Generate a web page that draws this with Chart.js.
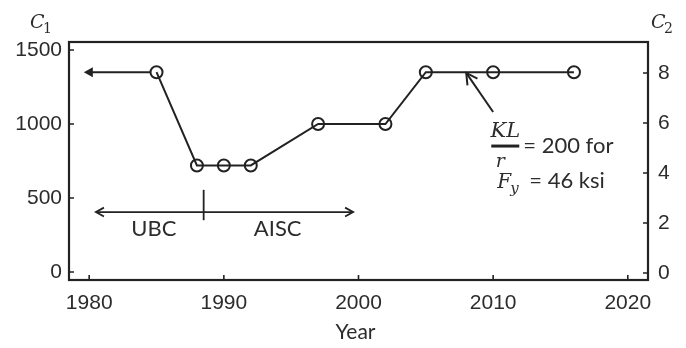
<!DOCTYPE html>
<html>
<head>
<meta charset="utf-8">
<script src="https://cdn.jsdelivr.net/npm/chart.js@4"></script>
<style>
  html, body { margin: 0; padding: 0; background: #fff; }
</style>
</head>
<body>
<canvas id="c1plot" width="686" height="348"></canvas>
<script>

// data
const years = [1985, 1988, 1990, 1992, 1997, 2002, 2005, 2010, 2016]
const c1Values = [1350, 720, 720, 720, 1000, 1000, 1350, 1350, 1350]

const yearTicks = [1980, 1990, 2000, 2010, 2020]
const c1Ticks = [0, 500, 1000, 1500]
const c2Ticks = [0, 2, 4, 6, 8]

// annotations (in data units)
const backArrowYears = [1985, 1979.6]      // arrow going left from first point
const codeSpanYears = [1980.5, 1999.6]     // UBC <-> AISC arrow
const codeSplitYear = 1988.5
const codeArrowC1 = 405
const codeSplitC1 = [350, 555]
const codeLabels = ['UBC', 'AISC']
const codeLabelYears = [1984.8, 1994.0]
const codeLabelC1 = 300
const noteArrowFrom = [2010.0, 1081]
const noteArrowTo = [2008.0, 1345]
const noteAnchor = [2010.9, 851]

const ink = '#222'
const textInk = '#2c2c2c'

function arrowHead(ctx, x, y, angle, len, filled) {
  ctx.save()
  ctx.translate(x, y)
  ctx.rotate(angle)
  ctx.beginPath()
  ctx.moveTo(-len, -len * 0.55)
  ctx.lineTo(0, 0)
  ctx.lineTo(-len, len * 0.55)
  if (filled) { ctx.closePath(); ctx.fill() } else { ctx.stroke() }
  ctx.restore()
}

const decorations = {
  id: 'decorations',
  afterDatasetsDraw(chart) {
    const ctx = chart.ctx
    const a = chart.chartArea
    const xs = chart.scales.x
    const ys = chart.scales.y
    const y2 = chart.scales.y2
    ctx.save()
    ctx.strokeStyle = ink
    ctx.fillStyle = ink
    ctx.lineCap = 'butt'

    // box
    ctx.lineWidth = 2.2
    ctx.strokeRect(a.left, a.top, a.right - a.left, a.bottom - a.top)

    // inward tick marks
    ctx.lineWidth = 1.6
    ctx.beginPath()
    yearTicks.forEach(v => {
      const px = xs.getPixelForValue(v)
      ctx.moveTo(px, a.bottom); ctx.lineTo(px, a.bottom - 5)
    })
    c1Ticks.forEach(v => {
      const py = ys.getPixelForValue(v)
      ctx.moveTo(a.left, py); ctx.lineTo(a.left + 5, py)
    })
    c2Ticks.forEach(v => {
      const py = y2.getPixelForValue(v)
      ctx.moveTo(a.right, py); ctx.lineTo(a.right - 5, py)
    })
    ctx.stroke()

    // arrow back to 1980
    ctx.lineWidth = 2
    const by = ys.getPixelForValue(c1Values[0])
    const bx0 = xs.getPixelForValue(backArrowYears[0]) - 6
    const bx1 = xs.getPixelForValue(backArrowYears[1])
    ctx.beginPath(); ctx.moveTo(bx0, by); ctx.lineTo(bx1 + 4, by); ctx.stroke()
    arrowHead(ctx, bx1, by, Math.PI, 9, true)

    // UBC / AISC arrow
    ctx.lineWidth = 1.8
    const cy = ys.getPixelForValue(codeArrowC1)
    const cl = xs.getPixelForValue(codeSpanYears[0])
    const cr = xs.getPixelForValue(codeSpanYears[1])
    ctx.beginPath(); ctx.moveTo(cl, cy); ctx.lineTo(cr, cy); ctx.stroke()
    arrowHead(ctx, cl, cy, Math.PI, 8, false)
    arrowHead(ctx, cr, cy, 0, 8, false)
    const sx = xs.getPixelForValue(codeSplitYear)
    ctx.beginPath()
    ctx.moveTo(sx, ys.getPixelForValue(codeSplitC1[0]))
    ctx.lineTo(sx, ys.getPixelForValue(codeSplitC1[1]))
    ctx.stroke()

    // note arrow
    ctx.lineWidth = 2
    const nx0 = xs.getPixelForValue(noteArrowFrom[0]), ny0 = ys.getPixelForValue(noteArrowFrom[1])
    const nx1 = xs.getPixelForValue(noteArrowTo[0]), ny1 = ys.getPixelForValue(noteArrowTo[1])
    ctx.beginPath(); ctx.moveTo(nx0, ny0); ctx.lineTo(nx1, ny1); ctx.stroke()
    arrowHead(ctx, nx1, ny1, Math.atan2(ny1 - ny0, nx1 - nx0), 11, false)

    // texts
    ctx.fillStyle = textInk
    ctx.textBaseline = 'alphabetic'
    ctx.textAlign = 'center'
    ctx.font = '22px Lato'
    codeLabels.forEach((t, i) => {
      ctx.fillText(t, xs.getPixelForValue(codeLabelYears[i]), ys.getPixelForValue(codeLabelC1) + 8)
    })

    // KL / r = 200 for, Fy = 46 ksi
    const ax = xs.getPixelForValue(noteAnchor[0])
    const ay = ys.getPixelForValue(noteAnchor[1])
    ctx.font = 'italic 21px "DejaVu Serif"'
    ctx.fillText('KL', ax, ay - 9)
    ctx.font = 'italic 19px "DejaVu Serif"'
    ctx.fillText('r', ax - 5, ay + 21)
    ctx.fillStyle = ink
    ctx.fillRect(ax - 14, ay - 1.5, 28, 3)
    ctx.fillStyle = textInk
    ctx.textAlign = 'left'
    ctx.font = '22px Lato'
    ctx.fillText('= 200 for', ax + 18, ay + 7)
    ctx.font = 'italic 20px "DejaVu Serif"'
    ctx.fillText('F', ax - 8, ay + 42)
    ctx.font = 'italic 15px "DejaVu Serif"'
    ctx.fillText('y', ax + 5, ay + 47)
    ctx.font = '22px Lato'
    ctx.fillText('= 46 ksi', ax + 24, ay + 42)

    // axis names
    ctx.textAlign = 'center'
    ctx.font = '21px Lato'
    ctx.fillText('Year', (a.left + a.right) / 2 - 3, 339)
    ctx.textAlign = 'left'
    ctx.font = 'italic 19px "DejaVu Serif"'
    ctx.fillText('C', 30, 28)
    ctx.fillText('C', 651, 28)
    ctx.font = '14px "DejaVu Serif"'
    ctx.fillText('1', 43, 33)
    ctx.fillText('2', 664, 33)
    ctx.restore()
  }
}

const points = years.map((yr, i) => ({ x: yr, y: c1Values[i] }))

const tickFont = { family: 'Arial, "Liberation Sans", sans-serif', size: 21 }
const plainLabel = v => String(v)

const config = {
  type: 'scatter',
  data: {
    datasets: [{
      label: 'C1',
      data: points,
      showLine: true,
      borderColor: ink,
      borderWidth: 2,
      pointRadius: 6,
      pointBorderWidth: 2,
      pointBorderColor: ink,
      pointBackgroundColor: 'rgba(0,0,0,0)',
      tension: 0,
      yAxisID: 'y',
    }]
  },
  options: {
    responsive: false,
    animation: false,
    font: { family: 'Arial, "Liberation Sans", sans-serif' },
    layout: { padding: { top: 42, left: 0, right: 0, bottom: 0 } },
    plugins: { legend: { display: false }, tooltip: { enabled: false } },
    scales: {
      x: {
        type: 'linear',
        min: 1978.5,
        max: 2021.5,
        afterBuildTicks: s => { s.ticks = yearTicks.map(v => ({ value: v })) },
        afterFit: s => { s.height = 68 },
        grid: { display: false, drawTicks: false },
        border: { display: false },
        ticks: { font: tickFont, color: textInk, padding: 11, maxRotation: 0, callback: plainLabel },
      },
      y: {
        position: 'left',
        min: -54,
        max: 1554,
        afterBuildTicks: s => { s.ticks = c1Ticks.map(v => ({ value: v })) },
        afterFit: s => { s.width = 69 },
        grid: { display: false, drawTicks: false },
        border: { display: false },
        ticks: { font: tickFont, color: textInk, padding: 7, callback: plainLabel },
      },
      y2: {
        position: 'right',
        min: -0.28,
        max: 9.24,
        afterBuildTicks: s => { s.ticks = c2Ticks.map(v => ({ value: v })) },
        afterFit: s => { s.width = 38 },
        grid: { display: false, drawTicks: false },
        border: { display: false },
        ticks: { font: tickFont, color: textInk, padding: 10, callback: plainLabel },
      },
    }
  },
  plugins: [decorations]
}

const myChart = new Chart(document.getElementById('c1plot'), config)
</script>
</body>
</html>
